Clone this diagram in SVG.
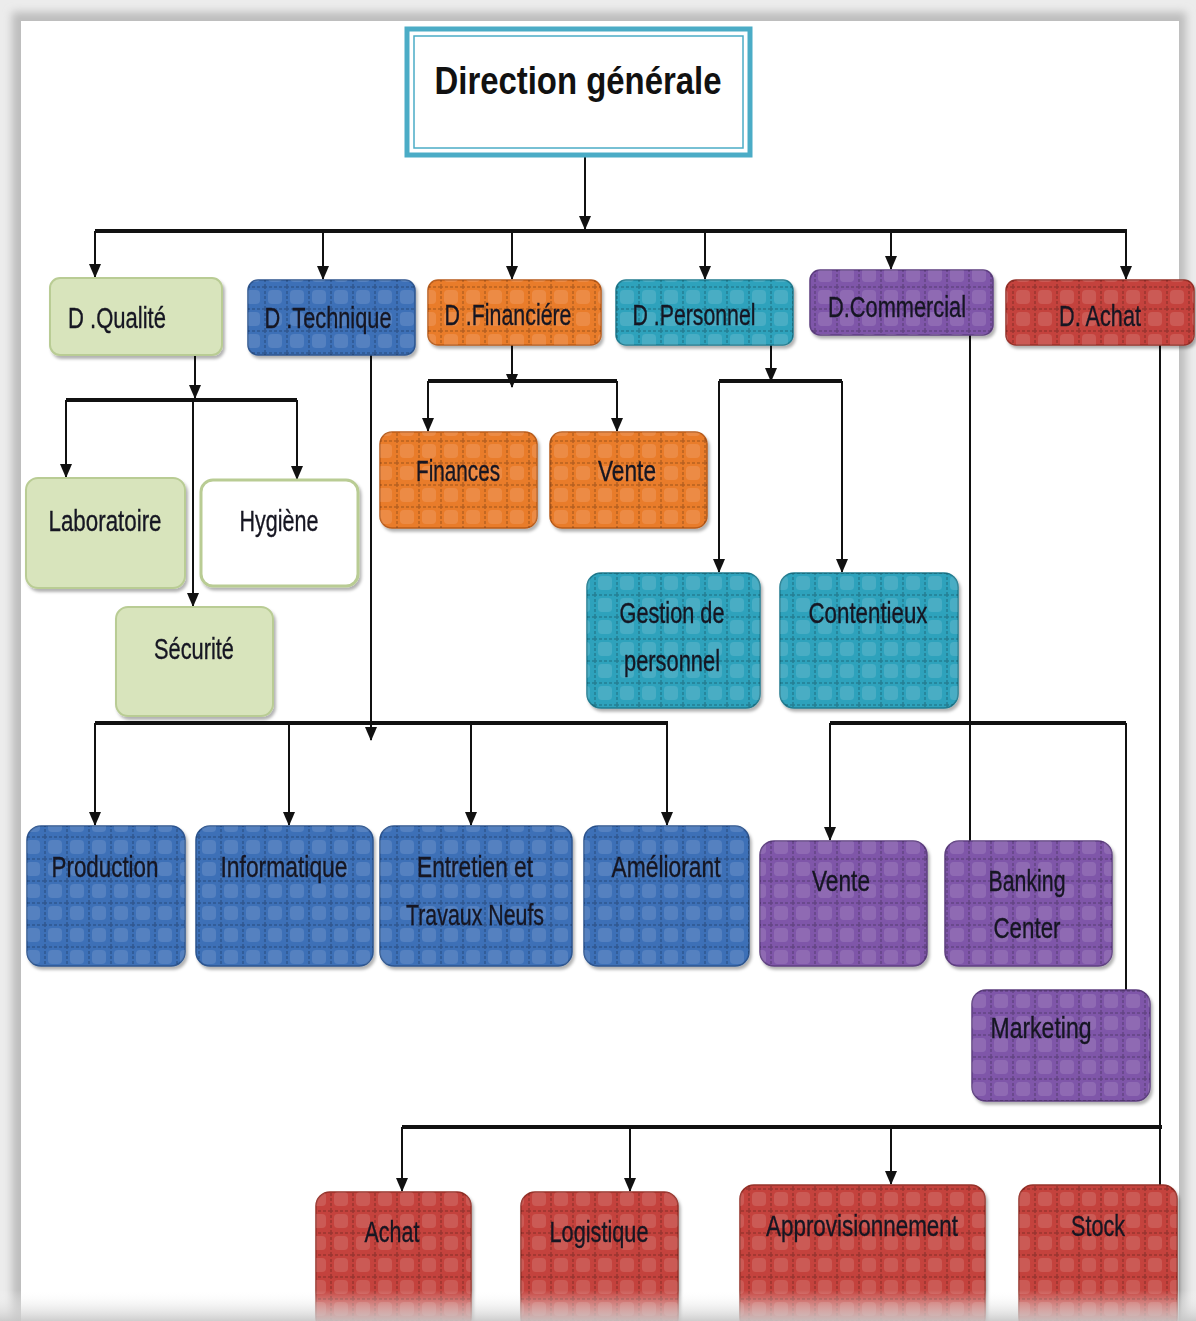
<svg xmlns="http://www.w3.org/2000/svg" width="1196" height="1321" viewBox="0 0 1196 1321">
<defs>
  <style>
    .lbl{font-family:"Liberation Sans",Arial,sans-serif;font-size:29px;text-anchor:middle;fill:#161622;stroke:#161622;stroke-width:0.35}
    .title{font-family:"Liberation Sans",Arial,sans-serif;font-size:39px;font-weight:bold;text-anchor:middle;fill:#111}
    .ln{fill:none;stroke:#111;stroke-width:2}
    .bar{fill:none;stroke:#111;stroke-width:4}
    .arr{marker-end:url(#ah)}
    .green{fill:#d8e4bc;stroke:#b9cc94;stroke-width:2}
    .white{fill:#ffffff;stroke:#b9cc94;stroke-width:3}
    .blue{fill:#3c6fb7;stroke:#2d558f;stroke-width:1.5}
    .orange{fill:#e97b2b;stroke:#b85c1c;stroke-width:1.5}
    .teal{fill:#2fa2bc;stroke:#217c90;stroke-width:1.5}
    .purple{fill:#7f57a9;stroke:#5e3f80;stroke-width:1.5}
    .red{fill:#c4433c;stroke:#953029;stroke-width:1.5}
    .tex{fill:url(#weave);stroke:none}
  </style>
  <marker id="ah" viewBox="0 0 14 12" refX="13" refY="6" markerWidth="14" markerHeight="12" markerUnits="userSpaceOnUse" orient="auto">
    <path d="M0,0 L14,6 L0,12 Z" fill="#111"/>
  </marker>
  <pattern id="weave" patternUnits="userSpaceOnUse" width="22" height="22">
    <rect x="4" y="4" width="14" height="14" rx="4" fill="#ffffff" fill-opacity="0.12"/>
    <path d="M0 1 H22 M1 0 V22" stroke="#000" stroke-opacity="0.22" stroke-width="1.5" stroke-dasharray="3 2"/>
  </pattern>
  <filter id="sh" x="-10%" y="-10%" width="125%" height="130%">
    <feDropShadow dx="2" dy="3" stdDeviation="1.5" flood-color="#000" flood-opacity="0.3"/>
  </filter>
  <filter id="pageblur" x="-5%" y="-5%" width="110%" height="110%">
    <feGaussianBlur stdDeviation="4"/>
  </filter>
  <linearGradient id="bottomfade" x1="0" y1="0" x2="0" y2="1">
    <stop offset="0" stop-color="#ffffff" stop-opacity="0"/>
    <stop offset="1" stop-color="#c8c8c8" stop-opacity="0.9"/>
  </linearGradient>
</defs>

<!-- page frame -->
<rect x="0" y="0" width="1196" height="1321" fill="#ececec"/>
<rect x="12" y="12" width="1174" height="1320" fill="#bdbdbd" filter="url(#pageblur)"/>
<rect x="21" y="21" width="1158" height="1300" fill="#ffffff"/>

<!-- connectors -->
<g id="connectors">
  <path class="ln arr" d="M585 157 V229"/>
  <path class="bar" d="M95 231 H1127"/>
  <path class="ln arr" d="M95 231 V277"/>
  <path class="ln arr" d="M323 231 V279"/>
  <path class="ln arr" d="M512 231 V279"/>
  <path class="ln arr" d="M705 231 V279"/>
  <path class="ln arr" d="M891 231 V269"/>
  <path class="ln arr" d="M1126 231 V279"/>

  <!-- Qualité -->
  <path class="ln arr" d="M195 355 V398"/>
  <path class="bar" d="M66 400 H297"/>
  <path class="ln arr" d="M66 400 V477"/>
  <path class="ln arr" d="M297 400 V479"/>
  <path class="ln arr" d="M193 400 V606"/>

  <!-- Financière -->
  <path class="ln arr" d="M512 345 V387"/>
  <path class="bar" d="M428 381 H617"/>
  <path class="ln arr" d="M428 381 V431"/>
  <path class="ln arr" d="M617 381 V431"/>

  <!-- Personnel -->
  <path class="ln arr" d="M771 330 V381"/>
  <path class="bar" d="M719 381 H842"/>
  <path class="ln arr" d="M719 381 V572"/>
  <path class="ln arr" d="M842 381 V572"/>

  <!-- Technique -->
  <path class="ln arr" d="M371 355 V740"/>
  <path class="bar" d="M95 723 H668"/>
  <path class="ln arr" d="M95 723 V825"/>
  <path class="ln arr" d="M289 723 V825"/>
  <path class="ln arr" d="M471 723 V825"/>
  <path class="ln arr" d="M667 723 V825"/>

  <!-- Commercial -->
  <path class="ln" d="M970 335 V842"/>
  <path class="bar" d="M830 723 H1126"/>
  <path class="ln arr" d="M830 723 V840"/>
  <path class="ln" d="M1126 723 V991"/>

  <!-- Achat -->
  <path class="ln" d="M1160 330 V1188"/>
  <path class="bar" d="M402 1127 H1162"/>
  <path class="ln arr" d="M402 1127 V1191"/>
  <path class="ln arr" d="M630 1127 V1191"/>
  <path class="ln arr" d="M891 1127 V1184"/>
</g>

<!-- Direction générale -->
<g id="direction-generale">
  <rect x="407" y="29" width="343" height="126" fill="#ffffff" stroke="#4bacc6" stroke-width="5"/>
  <rect x="414" y="36" width="329" height="112" fill="none" stroke="#4bacc6" stroke-width="1.5"/>
  <text class="title" x="578" y="94" textLength="287" lengthAdjust="spacingAndGlyphs">Direction générale</text>
</g>

<!-- Level 1 -->
<g id="d-qualite" filter="url(#sh)">
  <rect class="green" x="50" y="278" width="172" height="77" rx="10"/>
  <text class="lbl" x="117" y="328" textLength="98" lengthAdjust="spacingAndGlyphs">D .Qualité</text>
</g>
<g id="d-technique" filter="url(#sh)">
  <rect class="blue" x="248" y="280" width="167" height="75" rx="10"/>
  <rect class="tex" x="248" y="280" width="167" height="75" rx="10"/>
  <text class="lbl" x="328" y="328" textLength="127" lengthAdjust="spacingAndGlyphs">D .Technique</text>
</g>
<g id="d-financiere" filter="url(#sh)">
  <rect class="orange" x="428" y="280" width="173" height="65" rx="10"/>
  <rect class="tex" x="428" y="280" width="173" height="65" rx="10"/>
  <text class="lbl" x="508" y="325" textLength="127" lengthAdjust="spacingAndGlyphs">D .Financiére</text>
</g>
<g id="d-personnel" filter="url(#sh)">
  <rect class="teal" x="616" y="280" width="177" height="65" rx="10"/>
  <rect class="tex" x="616" y="280" width="177" height="65" rx="10"/>
  <text class="lbl" x="694" y="325" textLength="123" lengthAdjust="spacingAndGlyphs">D .Personnel</text>
</g>
<g id="d-commercial" filter="url(#sh)">
  <rect class="purple" x="810" y="270" width="183" height="65" rx="10"/>
  <rect class="tex" x="810" y="270" width="183" height="65" rx="10"/>
  <text class="lbl" x="897" y="317" textLength="138" lengthAdjust="spacingAndGlyphs">D.Commercial</text>
</g>
<g id="d-achat" filter="url(#sh)">
  <rect class="red" x="1006" y="280" width="188" height="65" rx="10"/>
  <rect class="tex" x="1006" y="280" width="188" height="65" rx="10"/>
  <text class="lbl" x="1100" y="326" textLength="82" lengthAdjust="spacingAndGlyphs">D. Achat</text>
</g>

<!-- Qualité children -->
<g id="laboratoire" filter="url(#sh)">
  <rect class="green" x="26" y="478" width="159" height="110" rx="12"/>
  <text class="lbl" x="105" y="531" textLength="113" lengthAdjust="spacingAndGlyphs">Laboratoire</text>
</g>
<g id="hygiene" filter="url(#sh)">
  <rect class="white" x="201" y="480" width="157" height="106" rx="12"/>
  <text class="lbl" x="279" y="531" textLength="79" lengthAdjust="spacingAndGlyphs">Hygiène</text>
</g>
<g id="securite" filter="url(#sh)">
  <rect class="green" x="116" y="607" width="157" height="109" rx="12"/>
  <text class="lbl" x="194" y="659" textLength="80" lengthAdjust="spacingAndGlyphs">Sécurité</text>
</g>

<!-- Financière children -->
<g id="finances" filter="url(#sh)">
  <rect class="orange" x="380" y="432" width="157" height="96" rx="12"/>
  <rect class="tex" x="380" y="432" width="157" height="96" rx="12"/>
  <text class="lbl" x="458" y="481" textLength="84" lengthAdjust="spacingAndGlyphs">Finances</text>
</g>
<g id="vente-fin" filter="url(#sh)">
  <rect class="orange" x="550" y="432" width="157" height="96" rx="12"/>
  <rect class="tex" x="550" y="432" width="157" height="96" rx="12"/>
  <text class="lbl" x="627" y="481" textLength="58" lengthAdjust="spacingAndGlyphs">Vente</text>
</g>

<!-- Personnel children -->
<g id="gestion-personnel" filter="url(#sh)">
  <rect class="teal" x="587" y="573" width="173" height="135" rx="14"/>
  <rect class="tex" x="587" y="573" width="173" height="135" rx="14"/>
  <text class="lbl" x="672" y="623" textLength="105" lengthAdjust="spacingAndGlyphs">Gestion de</text>
  <text class="lbl" x="672" y="671" textLength="96" lengthAdjust="spacingAndGlyphs">personnel</text>
</g>
<g id="contentieux" filter="url(#sh)">
  <rect class="teal" x="780" y="573" width="178" height="135" rx="14"/>
  <rect class="tex" x="780" y="573" width="178" height="135" rx="14"/>
  <text class="lbl" x="868" y="623" textLength="119" lengthAdjust="spacingAndGlyphs">Contentieux</text>
</g>

<!-- Technique children -->
<g id="production" filter="url(#sh)">
  <rect class="blue" x="27" y="826" width="158" height="140" rx="14"/>
  <rect class="tex" x="27" y="826" width="158" height="140" rx="14"/>
  <text class="lbl" x="105" y="877" textLength="107" lengthAdjust="spacingAndGlyphs">Production</text>
</g>
<g id="informatique" filter="url(#sh)">
  <rect class="blue" x="196" y="826" width="177" height="140" rx="14"/>
  <rect class="tex" x="196" y="826" width="177" height="140" rx="14"/>
  <text class="lbl" x="284" y="877" textLength="127" lengthAdjust="spacingAndGlyphs">Informatique</text>
</g>
<g id="entretien" filter="url(#sh)">
  <rect class="blue" x="380" y="826" width="192" height="140" rx="14"/>
  <rect class="tex" x="380" y="826" width="192" height="140" rx="14"/>
  <text class="lbl" x="475" y="877" textLength="116" lengthAdjust="spacingAndGlyphs">Entretien et</text>
  <text class="lbl" x="475" y="925" textLength="138" lengthAdjust="spacingAndGlyphs">Travaux Neufs</text>
</g>
<g id="ameliorant" filter="url(#sh)">
  <rect class="blue" x="584" y="826" width="165" height="140" rx="14"/>
  <rect class="tex" x="584" y="826" width="165" height="140" rx="14"/>
  <text class="lbl" x="666" y="877" textLength="109" lengthAdjust="spacingAndGlyphs">Améliorant</text>
</g>

<!-- Commercial children -->
<g id="vente-com" filter="url(#sh)">
  <rect class="purple" x="760" y="841" width="167" height="125" rx="14"/>
  <rect class="tex" x="760" y="841" width="167" height="125" rx="14"/>
  <text class="lbl" x="841" y="891" textLength="58" lengthAdjust="spacingAndGlyphs">Vente</text>
</g>
<g id="banking-center" filter="url(#sh)">
  <rect class="purple" x="945" y="841" width="167" height="125" rx="14"/>
  <rect class="tex" x="945" y="841" width="167" height="125" rx="14"/>
  <text class="lbl" x="1027" y="891" textLength="77" lengthAdjust="spacingAndGlyphs">Banking</text>
  <text class="lbl" x="1027" y="938" textLength="67" lengthAdjust="spacingAndGlyphs">Center</text>
</g>
<g id="marketing" filter="url(#sh)">
  <rect class="purple" x="972" y="990" width="178" height="111" rx="14"/>
  <rect class="tex" x="972" y="990" width="178" height="111" rx="14"/>
  <text class="lbl" x="1041" y="1038" textLength="101" lengthAdjust="spacingAndGlyphs">Marketing</text>
</g>

<!-- Achat children -->
<g id="achat" filter="url(#sh)">
  <rect class="red" x="316" y="1192" width="155" height="140" rx="14"/>
  <rect class="tex" x="316" y="1192" width="155" height="140" rx="14"/>
  <text class="lbl" x="392" y="1242" textLength="55" lengthAdjust="spacingAndGlyphs">Achat</text>
</g>
<g id="logistique" filter="url(#sh)">
  <rect class="red" x="521" y="1192" width="157" height="140" rx="14"/>
  <rect class="tex" x="521" y="1192" width="157" height="140" rx="14"/>
  <text class="lbl" x="599" y="1242" textLength="99" lengthAdjust="spacingAndGlyphs">Logistique</text>
</g>
<g id="approvisionnement" filter="url(#sh)">
  <rect class="red" x="740" y="1185" width="245" height="147" rx="14"/>
  <rect class="tex" x="740" y="1185" width="245" height="147" rx="14"/>
  <text class="lbl" x="862" y="1236" textLength="192" lengthAdjust="spacingAndGlyphs">Approvisionnement</text>
</g>
<g id="stock" filter="url(#sh)">
  <rect class="red" x="1019" y="1185" width="158" height="147" rx="14"/>
  <rect class="tex" x="1019" y="1185" width="158" height="147" rx="14"/>
  <text class="lbl" x="1098" y="1236" textLength="54" lengthAdjust="spacingAndGlyphs">Stock</text>
</g>

<!-- bottom page fade -->
<rect x="0" y="1290" width="1196" height="31" fill="url(#bottomfade)"/>
</svg>
